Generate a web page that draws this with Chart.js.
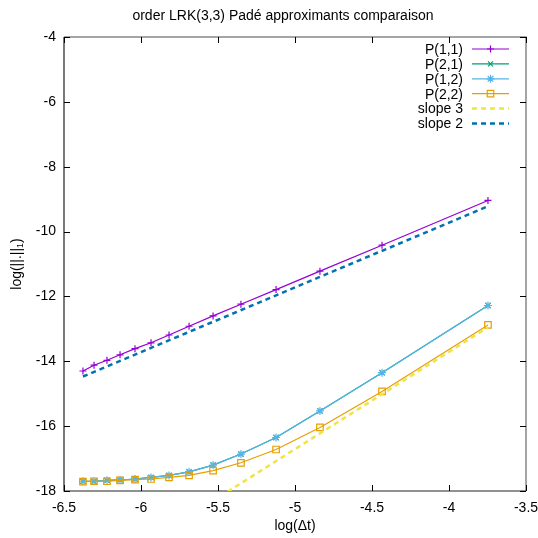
<!DOCTYPE html>
<html>
<head>
<meta charset="utf-8">
<script src="https://cdn.jsdelivr.net/npm/chart.js@4.4.0/dist/chart.umd.min.js"></script>
<style>
  html, body { margin: 0; padding: 0; background: #fff; }
  #wrap { width: 538px; height: 538px; }
</style>
</head>
<body>
<div id="wrap"><canvas id="c" width="538" height="538"></canvas></div>
<script>
// log(dt) sample points
const logDt = [-6.377, -6.305, -6.221, -6.136, -6.039, -5.935, -5.818, -5.688, -5.532, -5.351, -5.123, -4.838, -4.435, -3.747];

// log(||.||_1) for each approximant
const errP11 = [-14.30, -14.12, -13.97, -13.80, -13.61, -13.43, -13.19, -12.92, -12.60, -12.24, -11.79, -11.22, -10.42, -9.04];
const errP21 = [-17.70, -17.70, -17.67, -17.66, -17.63, -17.58, -17.52, -17.41, -17.20, -16.86, -16.35, -15.53, -14.35, -12.28];
const errP12 = [-17.70, -17.70, -17.67, -17.66, -17.63, -17.58, -17.52, -17.41, -17.20, -16.86, -16.35, -15.53, -14.35, -12.28];
const errP22 = [-17.71, -17.70, -17.70, -17.67, -17.65, -17.63, -17.58, -17.52, -17.37, -17.13, -16.72, -16.04, -14.93, -12.88];

// reference slopes (end points)
const slopeX = [-6.377, -3.747];
const slope3Y = [-20.84, -12.95];
const slope2Y = [-14.47, -9.22];

const xTicks = [-6.5, -6, -5.5, -5, -4.5, -4, -3.5];
const yTicks = [-18, -16, -14, -12, -10, -8, -6, -4];

const titleText = 'order LRK(3,3) Padé approximants comparaison';
const xTitle = 'log(\u0394t)';
const yTitleMain = 'log(||.||';
const yTitleSub = '1';

const FONT = "'Liberation Sans', Arial, Helvetica, sans-serif";
Chart.defaults.font.family = FONT;
Chart.defaults.font.size = 14;
Chart.defaults.color = '#000';

const pts = (xs, ys) => xs.map((x, i) => ({ x, y: ys[i] }));

const datasets = [
  { label: 'P(1,1)', data: pts(logDt, errP11), borderColor: '#9400d3', pointStyle: 'cross', pointRadius: 3.5, borderWidth: 1.2, order: 6 },
  { label: 'P(2,1)', data: pts(logDt, errP21), borderColor: '#009e73', pointStyle: 'crossRot', pointRadius: 3.5, borderWidth: 1.2, order: 5 },
  { label: 'P(1,2)', data: pts(logDt, errP12), borderColor: '#56b4e9', pointStyle: 'star', pointRadius: 4, borderWidth: 1.2, order: 4 },
  { label: 'P(2,2)', data: pts(logDt, errP22), borderColor: '#e69f00', pointStyle: 'rect', pointRadius: 4.6, borderWidth: 1.2, order: 3 },
  { label: 'slope 3', data: pts(slopeX, slope3Y), borderColor: '#f0e442', pointRadius: 0, borderWidth: 2.5, borderDash: [5, 4], order: 2 },
  { label: 'slope 2', data: pts(slopeX, slope2Y), borderColor: '#0072b2', pointRadius: 0, borderWidth: 2.5, borderDash: [5, 4], order: 1 }
].map(d => Object.assign({
  pointBorderColor: d.borderColor,
  pointBackgroundColor: 'rgba(0,0,0,0)',
  pointBorderWidth: 1.2,
  fill: false,
  tension: 0
}, d));

function marker(ctx, style, r, x, y) {
  if (!style || r <= 0) return;
  ctx.beginPath();
  if (style === 'cross' || style === 'star') {
    ctx.moveTo(x - r, y); ctx.lineTo(x + r, y);
    ctx.moveTo(x, y - r); ctx.lineTo(x, y + r);
  }
  if (style === 'crossRot' || style === 'star') {
    const s = r * Math.SQRT1_2;
    ctx.moveTo(x - s, y - s); ctx.lineTo(x + s, y + s);
    ctx.moveTo(x - s, y + s); ctx.lineTo(x + s, y - s);
  }
  if (style === 'rect') {
    const s = r * Math.SQRT1_2;
    ctx.rect(x - s, y - s, 2 * s, 2 * s);
  }
  ctx.stroke();
}

const gnuFrame = {
  id: 'gnuFrame',
  beforeDatasetsDraw(chart) {
    const { ctx, chartArea: a, scales } = chart;
    ctx.save();
    // border
    ctx.lineWidth = 1.5;
    ctx.strokeStyle = '#888';
    ctx.beginPath();
    ctx.moveTo(a.left, a.top); ctx.lineTo(a.right, a.top); ctx.lineTo(a.right, a.bottom);
    ctx.stroke();
    ctx.lineWidth = 1.2;
    ctx.strokeStyle = '#222';
    ctx.beginPath();
    ctx.moveTo(a.left, a.top); ctx.lineTo(a.left, a.bottom); ctx.lineTo(a.right, a.bottom);
    ctx.stroke();
    // inward ticks
    const L = 6;
    ctx.lineWidth = 1;
    ctx.strokeStyle = '#000';
    ctx.beginPath();
    xTicks.forEach(v => {
      const px = Math.round(scales.x.getPixelForValue(v)) + 0.5;
      ctx.moveTo(px, a.bottom); ctx.lineTo(px, a.bottom - L);
      ctx.moveTo(px, a.top); ctx.lineTo(px, a.top + L);
    });
    yTicks.forEach(v => {
      const py = Math.round(scales.y.getPixelForValue(v)) + 0.5;
      ctx.moveTo(a.left, py); ctx.lineTo(a.left + L, py);
      ctx.moveTo(a.right, py); ctx.lineTo(a.right - L, py);
    });
    ctx.stroke();
    ctx.restore();
  },
  afterDraw(chart) {
    const { ctx, chartArea: a } = chart;
    ctx.save();
    ctx.fillStyle = '#000';
    ctx.font = '14px ' + FONT;
    ctx.textAlign = 'center';
    ctx.textBaseline = 'middle';
    ctx.fillText(titleText, 283, 16);
    ctx.fillText(xTitle, (a.left + a.right) / 2, 526);

    // y title with subscript, rotated
    ctx.save();
    ctx.translate(17, (a.top + a.bottom) / 2);
    ctx.rotate(-Math.PI / 2);
    const wMain = ctx.measureText(yTitleMain).width;
    ctx.font = '9px ' + FONT;
    const wSub = ctx.measureText(yTitleSub).width;
    ctx.font = '14px ' + FONT;
    const wEnd = ctx.measureText(')').width;
    let x = -(wMain + wSub + wEnd) / 2;
    ctx.textAlign = 'left';
    ctx.fillText(yTitleMain, x, 0); x += wMain;
    ctx.font = '9px ' + FONT;
    ctx.fillText(yTitleSub, x, 4); x += wSub;
    ctx.font = '14px ' + FONT;
    ctx.fillText(')', x, 0);
    ctx.restore();

    // key, top right inside the plot
    const textRight = 463, x0 = 472, x1 = 509, yFirst = 49, step = 14.9;
    chart.data.datasets.forEach((d, i) => {
      const y = yFirst + i * step;
      ctx.textAlign = 'right';
      ctx.fillStyle = '#000';
      ctx.fillText(d.label, textRight, y + 1);
      ctx.strokeStyle = d.borderColor;
      ctx.lineWidth = d.borderWidth;
      ctx.setLineDash(d.borderDash || []);
      ctx.beginPath();
      ctx.moveTo(x0, y); ctx.lineTo(x1, y);
      ctx.stroke();
      ctx.setLineDash([]);
      ctx.lineWidth = 1.2;
      marker(ctx, d.pointRadius > 0 ? d.pointStyle : null, d.pointRadius, (x0 + x1) / 2, y);
    });
    ctx.restore();
  }
};

new Chart(document.getElementById('c'), {
  type: 'line',
  data: { datasets },
  options: {
    responsive: false,
    animation: false,
    layout: { padding: { top: 37, right: 12, left: 0, bottom: 0 } },
    plugins: { legend: { display: false }, tooltip: { enabled: false }, title: { display: false } },
    scales: {
      x: {
        type: 'linear', min: -6.5, max: -3.5,
        afterBuildTicks: s => { s.ticks = xTicks.map(v => ({ value: v })); },
        afterFit: s => { s.height = 47; s.paddingLeft = 0; s.paddingRight = 0; },
        grid: { display: false, drawTicks: false },
        border: { display: false },
        ticks: { padding: 9, maxRotation: 0, autoSkip: false, font: { size: 14 }, color: '#000', callback: v => String(v) }
      },
      y: {
        type: 'linear', min: -18, max: -4,
        afterBuildTicks: s => { s.ticks = yTicks.map(v => ({ value: v })); },
        afterFit: s => { s.width = 64; s.paddingTop = 0; s.paddingBottom = 0; },
        grid: { display: false, drawTicks: false },
        border: { display: false },
        ticks: { padding: 8, font: { size: 14 }, color: '#000', callback: v => String(v) }
      }
    }
  },
  plugins: [gnuFrame]
});
</script>
</body>
</html>
